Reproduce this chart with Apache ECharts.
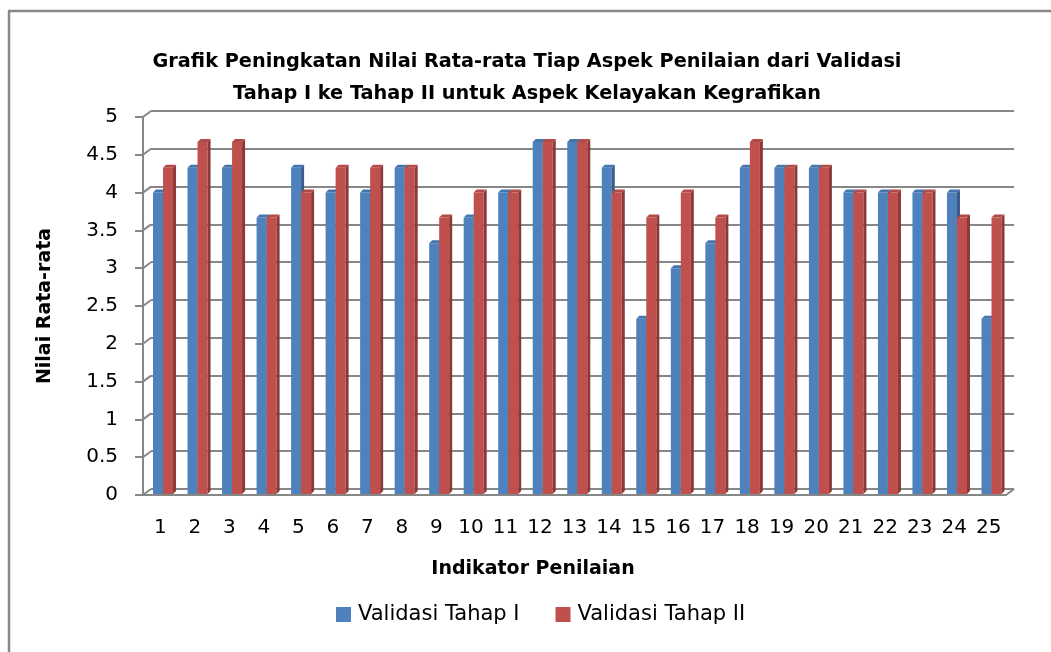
<!DOCTYPE html>
<html>
<head>
<meta charset="utf-8">
<script src="https://cdn.jsdelivr.net/npm/echarts@6/dist/echarts.min.js"></script>
<style>
html,body{margin:0;padding:0;background:#fff;}
#chart{width:1051px;height:652px;}
</style>
</head>
<body>
<div id="chart"></div>
<script>
const categories = ['1','2','3','4','5','6','7','8','9','10','11','12','13','14','15','16','17','18','19','20','21','22','23','24','25'];
const tahap1 = [4, 4.33, 4.33, 3.67, 4.33, 4, 4, 4.33, 3.33, 3.67, 4, 4.67, 4.67, 4.33, 2.33, 3, 3.33, 4.33, 4.33, 4.33, 4, 4, 4, 4, 2.33];
const tahap2 = [4.33, 4.67, 4.67, 3.67, 4, 4.33, 4.33, 4.33, 3.67, 4, 4, 4.67, 4.67, 4, 3.67, 4, 3.67, 4.67, 4.33, 4.33, 4, 4, 4, 3.67, 3.67];
const yTicks = [0, 0.5, 1, 1.5, 2, 2.5, 3, 3.5, 4, 4.5, 5];

const FONT = 'DejaVu Sans';
const GRID_COLOR = '#878787';
const DX = 8, DY = 6;

const faces = [
  {front: '#4F81BD', side: '#385D8A', top: '#4675AD'},
  {front: '#C0504D', side: '#8C3836', top: '#B24A47'}
];

function barRenderer(sIdx) {
  return function (params, api) {
    const i = api.value(0), v = api.value(1);
    const base = api.coord([i, 0]);
    const top = api.coord([i, v]);
    const bw = api.size([1, 0])[0];
    const w = bw * 0.29;
    const cx = base[0] + bw * 0.08;
    const x0 = sIdx === 0 ? cx - w : cx;
    const x1 = x0 + w;
    const yb = base[1] - 1;
    const yt = top[1];
    const d = 3;
    const f = faces[sIdx];
    return {
      type: 'group',
      children: [
        {type: 'rect', shape: {x: x0, y: yt, width: w, height: yb - yt}, style: {fill: f.front}},
        {type: 'polygon', shape: {points: [[x1, yt], [x1 + d, yt - d], [x1 + d, yb - d], [x1, yb]]}, style: {fill: f.side}},
        {type: 'polygon', shape: {points: [[x0, yt], [x1, yt], [x1 + d, yt - d], [x0 + d, yt - d]]}, style: {fill: f.top}}
      ]
    };
  };
}

const chart = echarts.init(document.getElementById('chart'));
chart.setOption({
  animation: false,
  color: ['#4F81BD', '#C0504D'],
  textStyle: {fontFamily: FONT},
  title: [
    {
      text: 'Grafik Peningkatan Nilai Rata-rata Tiap Aspek Penilaian dari Validasi\nTahap I ke Tahap II untuk Aspek Kelayakan Kegrafikan',
      left: 522, top: 41, textAlign: 'center',
      textStyle: {fontFamily: FONT, fontSize: 19.3, fontWeight: 'bold', color: '#000', lineHeight: 32}
    },
    {
      text: 'Indikator Penilaian',
      left: 528, top: 555, textAlign: 'center',
      textStyle: {fontFamily: FONT, fontSize: 19, fontWeight: 'bold', color: '#000'}
    }
  ],
  legend: {
    data: ['Validasi Tahap I', 'Validasi Tahap II'],
    left: 331, top: 599,
    icon: 'rect', itemWidth: 15, itemHeight: 15, itemGap: 36,
    textStyle: {fontFamily: FONT, fontSize: 21, color: '#000', padding: [0, 0, 0, 2]}
  },
  grid: [
    {left: 143, right: 45, top: 117, bottom: 157},
    {left: 143 + DX, right: 45 - DX, top: 117 - DY, bottom: 157 + DY}
  ],
  xAxis: [
    {
      type: 'category', gridIndex: 0, data: categories,
      axisLine: {lineStyle: {color: GRID_COLOR, width: 2}},
      axisTick: {length: 7, lineStyle: {color: GRID_COLOR, width: 2}},
      axisLabel: {color: '#000', fontSize: 20, fontFamily: FONT, margin: 23}
    },
    {type: 'value', gridIndex: 1, show: false, min: 0, max: 1}
  ],
  yAxis: [
    {
      type: 'value', gridIndex: 0, min: 0, max: 5, interval: 0.5,
      name: 'Nilai Rata-rata', nameLocation: 'middle', nameGap: 88,
      nameTextStyle: {fontFamily: FONT, fontSize: 19, fontWeight: 'bold', color: '#000'},
      axisLine: {show: true, lineStyle: {color: GRID_COLOR, width: 2}},
      axisTick: {show: true, length: 8, lineStyle: {color: GRID_COLOR, width: 2}},
      axisLabel: {color: '#000', fontSize: 20, fontFamily: FONT, margin: 25},
      splitLine: {show: false}
    },
    {
      type: 'value', gridIndex: 1, min: 0, max: 5, interval: 0.5,
      axisLine: {show: false}, axisTick: {show: false}, axisLabel: {show: false},
      splitLine: {show: true, lineStyle: {color: GRID_COLOR, width: 2}}
    }
  ],
  graphic: [
    {type: 'line', shape: {x1: 9, y1: 11, x2: 9, y2: 652}, style: {stroke: '#888', lineWidth: 2.5}},
    {type: 'line', shape: {x1: 8, y1: 11, x2: 1051, y2: 11}, style: {stroke: '#888', lineWidth: 2.5}}
  ],
  series: [
    {
      type: 'custom', name: 'connectors', xAxisIndex: 0, yAxisIndex: 0, silent: true,
      data: yTicks.map(v => [0, v]),
      renderItem: function (params, api) {
        const cs = params.coordSys;
        const y = api.coord([0, api.value(1)])[1];
        const children = [
          {type: 'line', shape: {x1: cs.x, y1: y, x2: cs.x + DX, y2: y - DY}, style: {stroke: GRID_COLOR, lineWidth: 2}}
        ];
        if (api.value(1) === 0) {
          const xr = cs.x + cs.width;
          children.push({type: 'line', shape: {x1: xr, y1: y, x2: xr + DX, y2: y - DY}, style: {stroke: GRID_COLOR, lineWidth: 2}});
        }
        return {type: 'group', children: children};
      },
      z: 1
    },
    {
      type: 'custom', name: 'Validasi Tahap I', xAxisIndex: 0, yAxisIndex: 0,
      itemStyle: {color: '#4F81BD'},
      data: tahap1.map((v, i) => [i, v]),
      renderItem: barRenderer(0), z: 3
    },
    {
      type: 'custom', name: 'Validasi Tahap II', xAxisIndex: 0, yAxisIndex: 0,
      itemStyle: {color: '#C0504D'},
      data: tahap2.map((v, i) => [i, v]),
      renderItem: barRenderer(1), z: 4
    }
  ]
});
</script>
</body>
</html>
